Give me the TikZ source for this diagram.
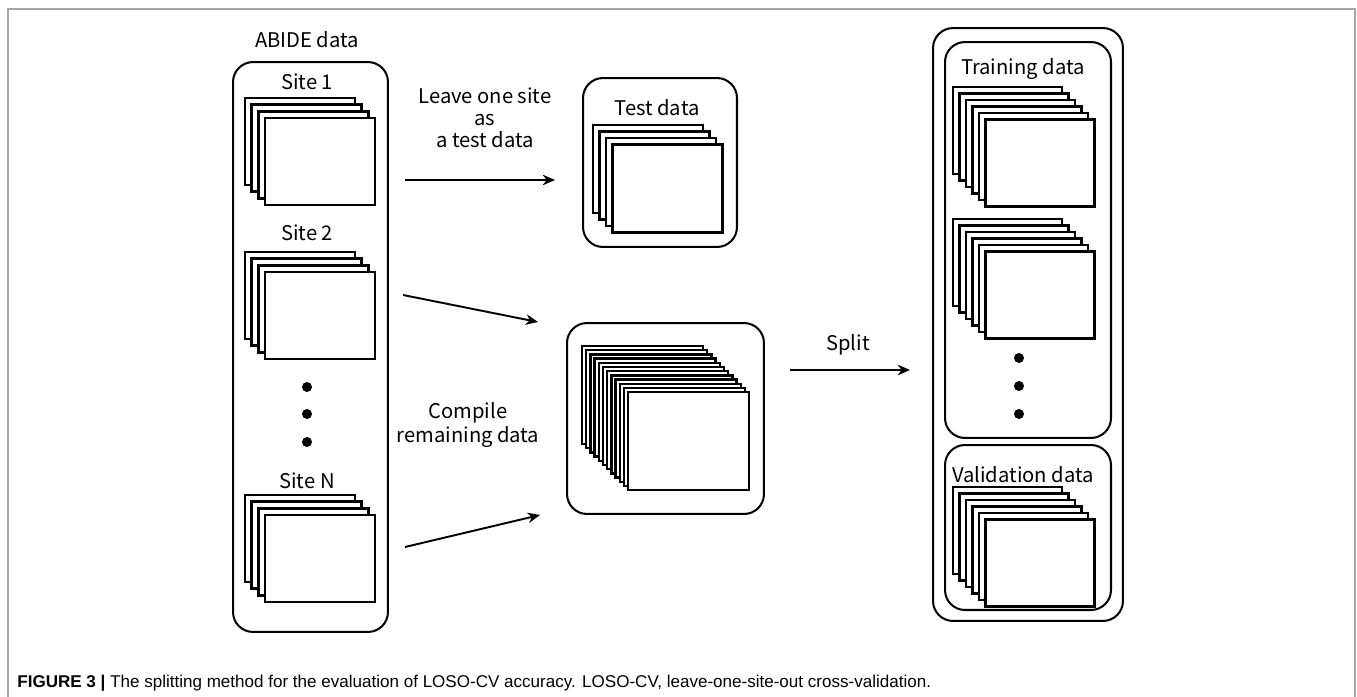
\documentclass[tikz,border=0pt]{standalone}
\usepackage{fontspec}
\setmainfont{Noto Sans CJK JP}
\newfontfamily\capfont{Liberation Sans}
\usetikzlibrary{arrows.meta}

\tikzset{
  sheet/.style={draw, fill=white, line width=1.45pt},
  roundbox/.style={draw, line width=1.15pt, rounded corners=0.4cm},
  flow/.style={line width=1.1pt, -{Stealth[length=7pt,width=6pt]}},
  lbl/.style={font=\fontsize{11.5}{14}\selectfont, inner sep=0pt}
}
% stack of sheets: back corner x, y, last index, step, width, height
\newcommand{\docstack}[6]{%
  \foreach \k in {0,...,#3}
    \draw[sheet] ({#1+\k*#4},{#2+\k*#4}) rectangle ++(#5,#6);
}

\begin{document}
\begin{tikzpicture}[x=0.02cm,y=-0.02cm]
\useasboundingbox (0,0) rectangle (1357,697);
\draw[gray!70, line width=0.8pt] (8,710) -- (8,9) -- (1355,9) -- (1355,710);

% ABIDE column
\node[lbl] (abide) at (307,40) {ABIDE data};
\node[roundbox, minimum width=3.1cm, minimum height=11.4cm] (abidebox) at (310.5,347) {};
\node[lbl] (site1) at (307,82) {Site 1};
\docstack{245}{98}{3}{6.7}{110}{87}
\node[lbl] (site2) at (307,233) {Site 2};
\docstack{245}{252}{3}{6.7}{110}{87}
\fill (307,387) circle (0.1cm);
\fill (307,414) circle (0.1cm);
\fill (307,442) circle (0.1cm);
\node[lbl] (siten) at (307,481) {Site N};
\docstack{245}{495}{3}{6.7}{110}{87}

% test data
\node[roundbox, minimum width=3.08cm, minimum height=3.38cm] (testbox) at (660,162.5) {};
\node[lbl] (testlbl) at (657,108) {Test data};
\docstack{593}{125}{3}{6.5}{110}{88}

% compiled data
\node[roundbox, minimum width=3.94cm, minimum height=3.82cm] (allbox) at (665.5,418.5) {};
\docstack{582}{346}{11}{4.2}{121}{98}

% training / validation
\node[roundbox, minimum width=3.8cm, minimum height=11.86cm] (splitbox) at (1028,324.5) {};
\node[roundbox, minimum width=3.32cm, minimum height=7.92cm] (trainbox) at (1028,240) {};
\node[lbl] (trainlbl) at (1023,69) {Training data};
\docstack{953}{87}{5}{6.5}{109}{87}
\docstack{953}{219}{5}{6.5}{109}{87}
\fill (1019,358) circle (0.1cm);
\fill (1019,386) circle (0.1cm);
\fill (1019,414) circle (0.1cm);
\node[roundbox, minimum width=3.32cm, minimum height=3.3cm] (valbox) at (1028,527.5) {};
\node[lbl] (vallbl) at (1023,475) {Validation data};
\docstack{953}{487}{5}{6.5}{109}{87}

% arrows
\coordinate (leaveA) at (405,180);
\coordinate (leaveB) at (555,180);
\coordinate (twoA) at (403,295);
\coordinate (twoB) at (538,322);
\coordinate (nA) at (405,547);
\coordinate (nB) at (540,515);
\coordinate (splitA) at (790,370);
\coordinate (splitB) at (910,370);
\draw[flow] (leaveA) -- (leaveB);
\draw[flow] (twoA) -- (twoB);
\draw[flow] (nA) -- (nB);
\draw[flow] (splitA) -- (splitB);
\node[lbl, align=center, font=\fontsize{11.5}{12.6}\selectfont] (leavelbl) at (485,118) {Leave one site\\as\\a test data};
\node[lbl, align=center, font=\fontsize{11.5}{14.2}\selectfont] (complbl) at (468,425) {Compile\\remaining data};
\node[lbl] (splitlbl) at (848,345) {Split};

% caption
\node[anchor=base west, inner sep=0pt, font=\capfont\fontsize{9.7}{11}\selectfont] (caption) at (17,687)
  {\textbf{FIGURE 3 |} The splitting method for the evaluation of LOSO-CV accuracy. LOSO-CV, leave-one-site-out cross-validation.};
\end{tikzpicture}
\end{document}
